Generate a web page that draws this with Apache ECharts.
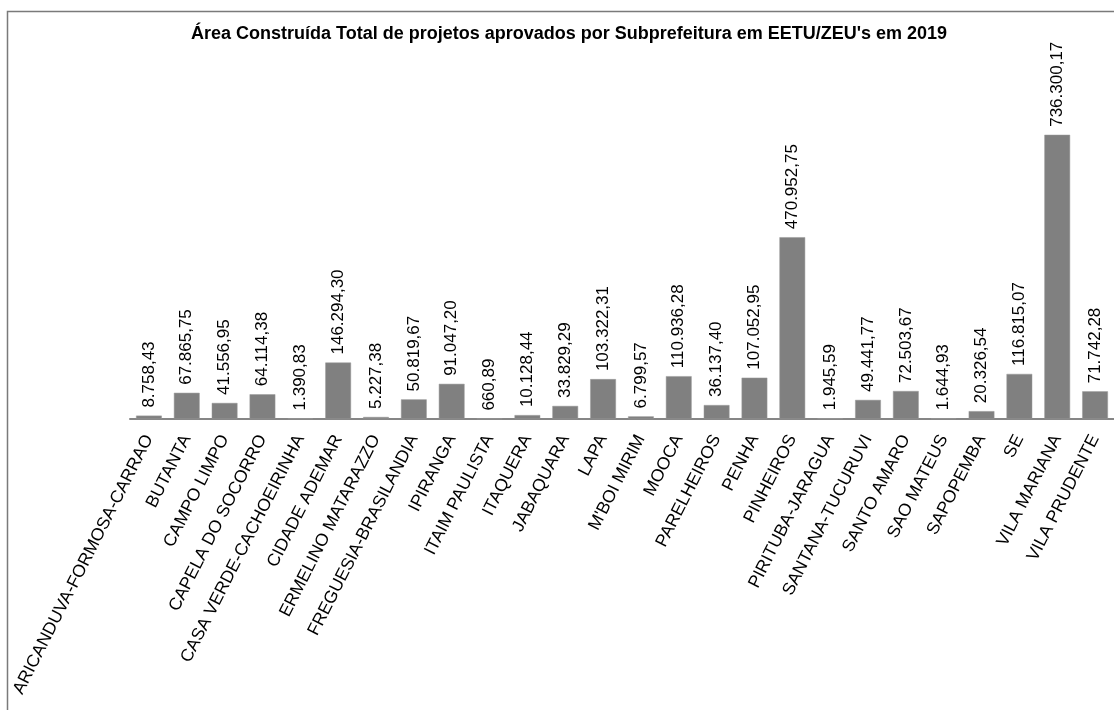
<!DOCTYPE html>
<html>
<head>
<meta charset="utf-8">
<script src="https://cdn.jsdelivr.net/npm/echarts@6/dist/echarts.min.js"></script>
<style>
  html, body { margin: 0; padding: 0; background: #fff; }
  #chart { width: 1114px; height: 710px; }
</style>
</head>
<body>
<div id="chart"></div>
<script>
var subprefeituras = ['ARICANDUVA-FORMOSA-CARRAO', 'BUTANTA', 'CAMPO LIMPO', 'CAPELA DO SOCORRO',
    'CASA VERDE-CACHOEIRINHA', 'CIDADE ADEMAR', 'ERMELINO MATARAZZO', 'FREGUESIA-BRASILANDIA',
    'IPIRANGA', 'ITAIM PAULISTA', 'ITAQUERA', 'JABAQUARA', 'LAPA', "M'BOI MIRIM", 'MOOCA',
    'PARELHEIROS', 'PENHA', 'PINHEIROS', 'PIRITUBA-JARAGUA', 'SANTANA-TUCURUVI', 'SANTO AMARO',
    'SAO MATEUS', 'SAPOPEMBA', 'SE', 'VILA MARIANA', 'VILA PRUDENTE'];
var areaConstruida = [8758.43, 67865.75, 41556.95, 64114.38, 1390.83, 146294.30, 5227.38, 50819.67,
    91047.20, 660.89, 10128.44, 33829.29, 103322.31, 6799.57, 110936.28, 36137.40, 107052.95,
    470952.75, 1945.59, 49441.77, 72503.67, 1644.93, 20326.54, 116815.07, 736300.17, 71742.28];

// formato brasileiro: 1.234,56
function fmtBR(v) {
    var parts = v.toFixed(2).split('.');
    var inteiro = parts[0].replace(/\B(?=(\d{3})+(?!\d))/g, '.');
    return inteiro + ',' + parts[1];
}

var chart = echarts.init(document.getElementById('chart'));
var option = {
    animation: false,
    textStyle: { fontFamily: 'Liberation Sans, Arial, sans-serif' },
    title: {
        text: "Área Construída Total de projetos aprovados por Subprefeitura em EETU/ZEU's em 2019",
        left: 186,
        top: 20,
        textStyle: { fontSize: 18, fontWeight: 'bold', color: '#000' }
    },
    graphic: [{
        type: 'rect',
        shape: { x: 7.5, y: 11.5, width: 1200, height: 800 },
        style: { fill: 'none', stroke: '#7a7a7a', lineWidth: 1.5 },
        silent: true
    }],
    grid: {
        left: 130,
        right: -9,
        top: 33,
        bottom: 291
    },
    xAxis: {
        type: 'category',
        data: subprefeituras,
        axisLine: { lineStyle: { color: '#868686', width: 2 } },
        axisTick: { show: false },
        axisLabel: {
            interval: 0,
            rotate: 63,
            margin: 17,
            fontSize: 17.5,
            color: '#000'
        }
    },
    yAxis: {
        type: 'value',
        min: 0,
        max: 1000000,
        show: false,
        splitLine: { show: false }
    },
    series: [{
        type: 'bar',
        data: areaConstruida,
        barCategoryGap: '32%',
        itemStyle: { color: '#808080', borderColor: '#999', borderWidth: 0.5 },
        label: {
            show: true,
            position: 'top',
            rotate: 90,
            align: 'left',
            verticalAlign: 'middle',
            distance: 8,
            fontSize: 17,
            color: '#000',
            formatter: function (p) { return fmtBR(p.value); }
        }
    }]
};
chart.setOption(option);
</script>
</body>
</html>
